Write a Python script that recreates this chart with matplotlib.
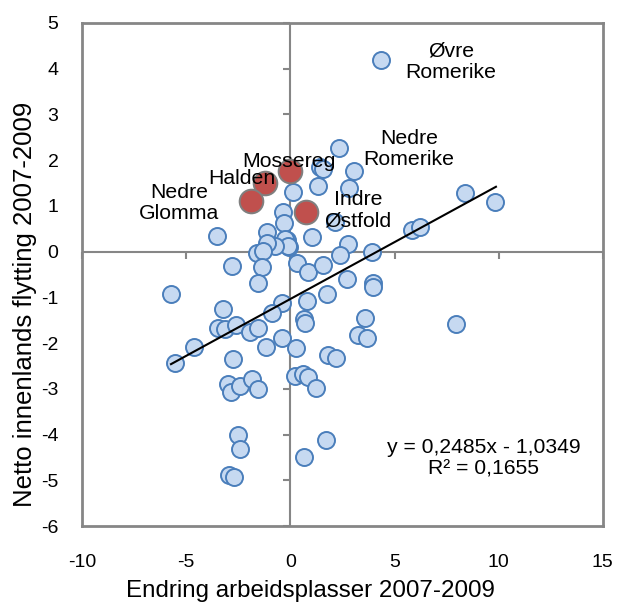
import matplotlib
matplotlib.use("Agg")
from matplotlib import pyplot as plt
from matplotlib.lines import TICKDOWN, TICKLEFT
import numpy as np

plt.rcParams['font.family'] = ['Liberation Sans', 'DejaVu Sans']
plt.rcParams['axes.unicode_minus'] = False

# Regioner (blå punkter): endring arbeidsplasser, netto innenlands flytting
x_blue = [4.34, 2.34, 3.04, 1.42, 1.55, 2.81, 1.32, 0.13, 2.14, 1.04,
          -0.35, -0.31, -0.16, -0.07, 2.76, 2.38, 3.92, 5.83, 6.22, 8.38,
          9.82, 0.30, 0.85, 1.56, -3.51, -1.13, -0.26, -0.12, -0.74, -1.12,
          -1.61, -1.31, -2.80, -1.36, -1.56, -5.73, 0.80, 1.77, -3.24, -0.40,
          -0.88, 0.65, 0.70, -3.47, -3.14, -2.61, -1.94, -1.56, -4.63, -5.53,
          -1.17, -0.40, 0.27, -2.75, -2.99, -2.85, -2.42, -1.84, -1.56, 0.22,
          0.60, 0.85, 1.23, -2.52, -2.42, -2.95, -2.71, 1.71, 0.65, 2.71,
          3.96, 3.96, 3.58, 3.24, 3.67, 7.95, 1.80, 2.19]
y_blue = [4.18, 2.26, 1.76, 1.85, 1.80, 1.40, 1.43, 1.30, 0.64, 0.32,
          0.86, 0.62, 0.25, 0.10, 0.16, -0.08, -0.01, 0.47, 0.54, 1.28,
          1.09, -0.25, -0.45, -0.30, 0.34, 0.43, 0.27, 0.12, 0.12, 0.19,
          -0.03, 0.01, -0.32, -0.34, -0.68, -0.93, -1.08, -0.93, -1.26, -1.13,
          -1.35, -1.48, -1.56, -1.67, -1.69, -1.61, -1.76, -1.67, -2.09, -2.44,
          -2.09, -1.89, -2.11, -2.35, -2.90, -3.07, -2.94, -2.79, -3.00, -2.72,
          -2.68, -2.74, -2.98, -4.01, -4.32, -4.88, -4.93, -4.12, -4.49, -0.60,
          -0.69, -0.78, -1.45, -1.82, -1.89, -1.58, -2.26, -2.33]

# Østfold-regionene (røde punkter)
x_red = [-0.01, -1.22, -1.89, 0.75]
y_red = [1.76, 1.50, 1.10, 0.86]

# Lineær trendlinje
slope, intercept = 0.2485, -1.0349
trend_x = [-5.73, 9.87]

labels = ["Øvre\nRomerike", "Nedre\nRomerike", "Indre\nØstfold",
          "Mossereg", "Halden", "Nedre\nGlomma"]
label_x = [7.72, 5.69, 3.24, -0.07, -2.32, -5.35]
label_y = [4.15, 2.24, 0.91, 1.98, 1.60, 1.07]

xticks = [-10, -5, 0, 5, 10, 15]
yticks = [-6, -5, -4, -3, -2, -1, 0, 1, 2, 3, 4, 5]

fig = plt.figure(figsize=(6.17, 6.02), dpi=100)
ax = fig.add_axes([0.133, 0.126, 0.844, 0.836])

grey = '#868686'
ax.axhline(0, color=grey, lw=1.5, zorder=1)
ax.axvline(0, color=grey, lw=1.5, zorder=1)
# tick marks sitting on the zero axes, Excel style
ax.plot(xticks, [0] * len(xticks), ls='none', marker=TICKDOWN, ms=5,
        mew=1.5, color=grey, zorder=1, clip_on=False)
ax.plot([0] * len(yticks), yticks, ls='none', marker=TICKLEFT, ms=5,
        mew=1.5, color=grey, zorder=1, clip_on=False)

ax.scatter(x_blue, y_blue, s=150, facecolor='#c6d9f1', edgecolor='#4a7ebb',
           linewidth=1.4, zorder=3)
ax.scatter(x_red, y_red, s=290, facecolor='#c0504d', edgecolor='#7f7f7f',
           linewidth=1.4, zorder=4)

tx = np.array(trend_x)
ax.plot(tx, slope * tx + intercept, color='black', lw=1.5, zorder=5)

for lab, lx, ly in zip(labels, label_x, label_y):
    ax.text(lx, ly, lab, ha='center', va='center', fontsize=15.3,
            linespacing=1.15, zorder=6)

ax.text(9.29, -4.52, "y = 0,2485x - 1,0349\nR² = 0,1655", ha='center',
        va='center', fontsize=15.2, linespacing=1.15)

ax.set_xlim(-10, 15)
ax.set_ylim(-6, 5)
ax.set_xticks(xticks)
ax.set_yticks(yticks)
ax.tick_params(length=0, labelsize=14)
ax.tick_params(axis='y', pad=17)
ax.tick_params(axis='x', pad=20)
for s in ax.spines.values():
    s.set_color(grey)
    s.set_linewidth(2)

ax.set_xlabel("Endring arbeidsplasser 2007-2009", fontsize=17.4, va='center')
ax.xaxis.set_label_coords(0.438, -0.129)
ax.set_ylabel("Netto innenlands flytting 2007-2009", fontsize=18.5,
              va='center')
ax.yaxis.set_label_coords(-0.109, 0.44)

fig.savefig("out.png", dpi=100)
